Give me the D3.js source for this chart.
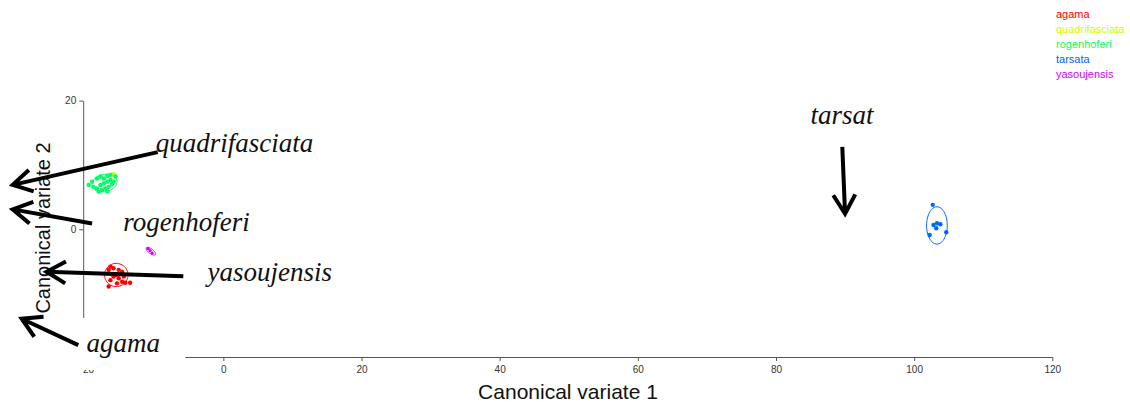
<!DOCTYPE html>
<html>
<head>
<meta charset="utf-8">
<script src="https://cdn.jsdelivr.net/npm/d3@7"></script>
<style>
  body { margin: 0; background: #fff; }
  .axis path, .axis line { stroke: #555; }
  .axis text { fill: #333; font-family: 'Liberation Sans', Arial, sans-serif; font-size: 10px; }
</style>
</head>
<body>
<script>
// species and colours (R rainbow(5))
const categories = ['agama', 'quadrifasciata', 'rogenhoferi', 'tarsata', 'yasoujensis'];
const colors = ['#FF0000', '#CCFF00', '#00FF66', '#0066FF', '#CC00FF'];

// canonical scores, [cv1, cv2]
const agama = [[-16.6, -6.3], [-16.35, -5.8], [-15.9, -6.05], [-15.15, -6.3], [-14.65, -6.6],
  [-15.6, -7.1], [-15.15, -7.6], [-14.65, -8.15], [-15.4, -8.4], [-14.2, -8.3], [-13.5, -8.3],
  [-16.6, -8.9], [-15.9, -7.35], [-14.4, -7.35], [-16.35, -7.9]];
const quadrifasciata = [[-16.0, 8.6], [-15.8, 8.45]];
const rogenhoferi = [[-19.5, 6.9], [-19.0, 7.4], [-18.3, 7.9], [-17.8, 8.2], [-17.3, 7.9],
  [-16.8, 8.3], [-16.35, 8.45], [-15.6, 8.2], [-16.35, 7.65], [-16.8, 7.4], [-17.3, 7.15],
  [-17.8, 6.9], [-18.3, 6.35], [-18.05, 5.85], [-17.55, 6.1], [-17.1, 6.35], [-16.6, 6.6],
  [-16.1, 7.05], [-15.9, 7.4], [-18.8, 6.6], [-16.8, 5.9]];
const tarsata = [[102.7, 3.8], [102.8, 0.67], [103.3, 0.93], [103.8, 0.78], [103.2, 0.16],
  [102.25, -0.89], [104.65, -0.47]];
const yasoujensis = [[-10.9, -3.0], [-10.6, -3.3], [-10.3, -3.7]];
const groups = [agama, quadrifasciata, rogenhoferi, tarsata, yasoujensis];

// group ellipses: centre, semi axes, angle (degrees)
const ellipseCx = [-15.5, -15.9, -17.2, 103.3, -10.5];
const ellipseCy = [-7.1, 8.5, 7.2, 0.6, -3.4];
const ellipseA = [1.7, 0.4, 1.85, 1.5, 0.85];
const ellipseB = [1.8, 0.2, 1.35, 2.9, 0.35];
const ellipseAngle = [0, 10, 15, 0, -40];

// axis ticks
const xTicks = [-20, 0, 20, 40, 60, 80, 100, 120];
const yTicks = [-20, 0, 20];

// hand-drawn annotations (data units)
const annLabels = ['quadrifasciata', 'rogenhoferi', 'yasoujensis', 'agama', 'tarsat'];
const annTextX = [-9.8, -14.5, -2.3, -19.8, 85.0];
const annTextY = [12.0, -0.3, -8.0, -19.1, 16.4];
const arrowFromX = [-9.5, -19.0, -5.8, -21.0, 89.6];
const arrowFromY = [12.0, 0.9, -7.3, -18.0, 12.8];
const arrowToX = [-30.5, -30.5, -25.6, -29.2, 90.0];
const arrowToY = [6.9, 3.1, -6.6, -13.9, 2.4];

const width = 1130;
const height = 402;

const x = d3.scaleLinear().domain([-20, 120]).range([85.2, 1052.3]);
const y = d3.scaleLinear().domain([-20, 20]).range([358, 100.6]);

const svg = d3.select('body').append('svg')
  .attr('width', width)
  .attr('height', height);

// axes
svg.append('g')
  .attr('class', 'axis')
  .attr('transform', `translate(0,${y(-20) - 1})`)
  .call(d3.axisBottom(x).tickValues(xTicks).tickSize(4).tickPadding(5).tickSizeOuter(0));

svg.append('g')
  .attr('class', 'axis')
  .attr('transform', `translate(${x(-20) - 2},0)`)
  .call(d3.axisLeft(y).tickValues(yTicks).tickSize(4).tickPadding(3).tickSizeOuter(0));

// white box that hides the lower-left corner of the frame
svg.append('rect')
  .attr('x', 0)
  .attr('y', y(-13.7) + 0.5)
  .attr('width', x(-5.5))
  .attr('height', 369.5 - y(-13.7))
  .attr('fill', '#fff');

// ellipses
categories.forEach((c, i) => {
  const phi = ellipseAngle[i] * Math.PI / 180;
  const pts = d3.range(0, 361, 6).map((t) => {
    const th = t * Math.PI / 180;
    const ex = ellipseCx[i] + ellipseA[i] * Math.cos(th) * Math.cos(phi) - ellipseB[i] * Math.sin(th) * Math.sin(phi);
    const ey = ellipseCy[i] + ellipseA[i] * Math.cos(th) * Math.sin(phi) + ellipseB[i] * Math.sin(th) * Math.cos(phi);
    return [ex, ey];
  });
  svg.append('path')
    .datum(pts)
    .attr('d', d3.line().x(d => x(d[0])).y(d => y(d[1])))
    .attr('fill', 'none')
    .attr('stroke', colors[i])
    .attr('stroke-width', 1);
});

// points
groups.forEach((g, i) => {
  svg.append('g').selectAll('circle')
    .data(g)
    .enter().append('circle')
    .attr('cx', d => x(d[0]))
    .attr('cy', d => y(d[1]))
    .attr('r', i === 4 ? 1.6 : 2.2)
    .attr('fill', colors[i]);
});

// axis titles
svg.append('text')
  .attr('x', 568)
  .attr('y', 399)
  .style('text-anchor', 'middle')
  .style('font-family', "'Liberation Sans', Arial, sans-serif")
  .style('font-size', '21px')
  .attr('fill', '#111')
  .text('Canonical variate 1');

svg.append('text')
  .attr('transform', 'translate(49.5,228) rotate(-90)')
  .style('text-anchor', 'middle')
  .style('font-family', "'Liberation Sans', Arial, sans-serif")
  .style('font-size', '20px')
  .attr('fill', '#111')
  .text('Canonical variate 2');

// annotations
const armLen = 22;
const armAng = 30 * Math.PI / 180;
annLabels.forEach((lab, i) => {
  const x1 = x(arrowFromX[i]);
  const y1 = y(arrowFromY[i]);
  const x2 = x(arrowToX[i]);
  const y2 = y(arrowToY[i]);
  const back = Math.atan2(y1 - y2, x1 - x2);
  const a1 = [x2 + armLen * Math.cos(back - armAng), y2 + armLen * Math.sin(back - armAng)];
  const a2 = [x2 + armLen * Math.cos(back + armAng), y2 + armLen * Math.sin(back + armAng)];
  svg.append('path')
    .attr('d', `M${x1},${y1}L${x2},${y2}M${a1[0]},${a1[1]}L${x2},${y2}L${a2[0]},${a2[1]}`)
    .attr('fill', 'none')
    .attr('stroke', '#000')
    .attr('stroke-width', 4)
    .attr('stroke-linejoin', 'miter');

  svg.append('text')
    .attr('x', x(annTextX[i]))
    .attr('y', y(annTextY[i]))
    .style('font-family', "'Liberation Serif', 'Times New Roman', serif")
    .style('font-style', 'italic')
    .style('font-size', '27px')
    .attr('fill', '#111')
    .text(lab);
});

// legend
svg.append('g').selectAll('text')
  .data(categories)
  .enter().append('text')
  .attr('x', 1056)
  .attr('y', (d, i) => 17.5 + i * 15)
  .style('font-family', "'Liberation Sans', Arial, sans-serif")
  .style('font-size', '11px')
  .attr('fill', (d, i) => colors[i])
  .text(d => d);
</script>
</body>
</html>
